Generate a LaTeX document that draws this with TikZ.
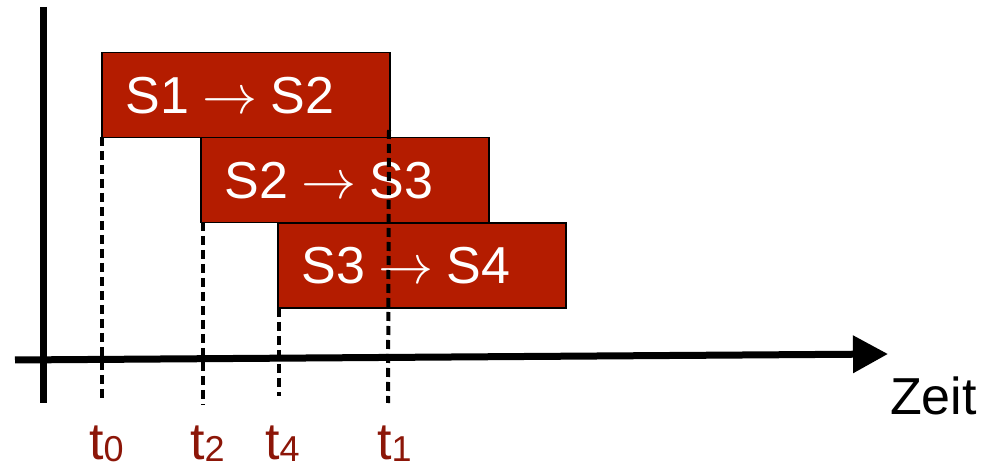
\documentclass[tikz,border=0pt]{standalone}
\usepackage{fontspec}
\setmainfont{Liberation Sans}
\usetikzlibrary{arrows.meta}
\definecolor{boxred}{RGB}{180,28,0}
\definecolor{labred}{RGB}{140,22,8}
\tikzset{
  statebox/.style={draw=black, line width=1.5pt, fill=boxred, text=white,
    anchor=north west, minimum width=288pt, minimum height=85pt,
    text width=240pt, align=left, inner xsep=24pt, inner ysep=0pt,
    font=\fontsize{52}{60}\selectfont},
  dashline/.style={line width=4pt, dash pattern=on 9pt off 5pt},
  axis/.style={line width=7pt},
  tlab/.style={text=labred, anchor=base west, inner sep=0pt,
    font=\fontsize{52}{60}\selectfont},
}
\newcommand{\tsub}[1]{t\raisebox{-2pt}{\fontsize{36}{40}\selectfont #1}}
\newcommand{\trans}[2]{#1\hspace{13pt}\scalebox{5.5}{\fontsize{10}{12}\selectfont$\rightarrow$}\hspace{13pt}#2}
\begin{document}
\begin{tikzpicture}[x=1pt,y=-1pt]
\useasboundingbox (0,0) rectangle (983,470);
% axes
\coordinate (ytop) at (43,7);
\coordinate (ybot) at (43,403);
\coordinate (xl) at (15,360);
\coordinate (xr) at (888,354);
\draw[axis] (ytop) -- (ybot);
\draw[axis, -{Triangle[length=35pt,width=36pt]}] (xl) -- (xr);
% boxes
\node[statebox] (b1) at (101,52) {\trans{S1}{S2}};
\node[statebox] (b2) at (200,137) {\trans{S2}{S3}};
\node[statebox] (b3) at (277,222.5) {\trans{S3}{S4}};
% dashed lines
\coordinate (d0a) at (102,137);  \coordinate (d0b) at (102,400);
\coordinate (d2a) at (203,222);  \coordinate (d2b) at (203,405);
\coordinate (d4a) at (279,308);  \coordinate (d4b) at (279,396);
\coordinate (d1a) at (389,130);  \coordinate (d1b) at (388,403);
\draw[dashline] (d0a) -- (d0b);
\draw[dashline] (d2a) -- (d2b);
\draw[dashline] (d4a) -- (d4b);
\draw[dashline] (d1a) -- (d1b);
% labels
\node[tlab] (t0) at (89,459) {\tsub{0}};
\node[tlab] (t2) at (190,459) {\tsub{2}};
\node[tlab] (t4) at (265,459) {\tsub{4}};
\node[tlab] (t1) at (377,459) {\tsub{1}};
\node[anchor=base west, inner sep=0pt, font=\fontsize{52}{60}\selectfont] (zeit) at (890,414) {Zeit};
\end{tikzpicture}
\end{document}
